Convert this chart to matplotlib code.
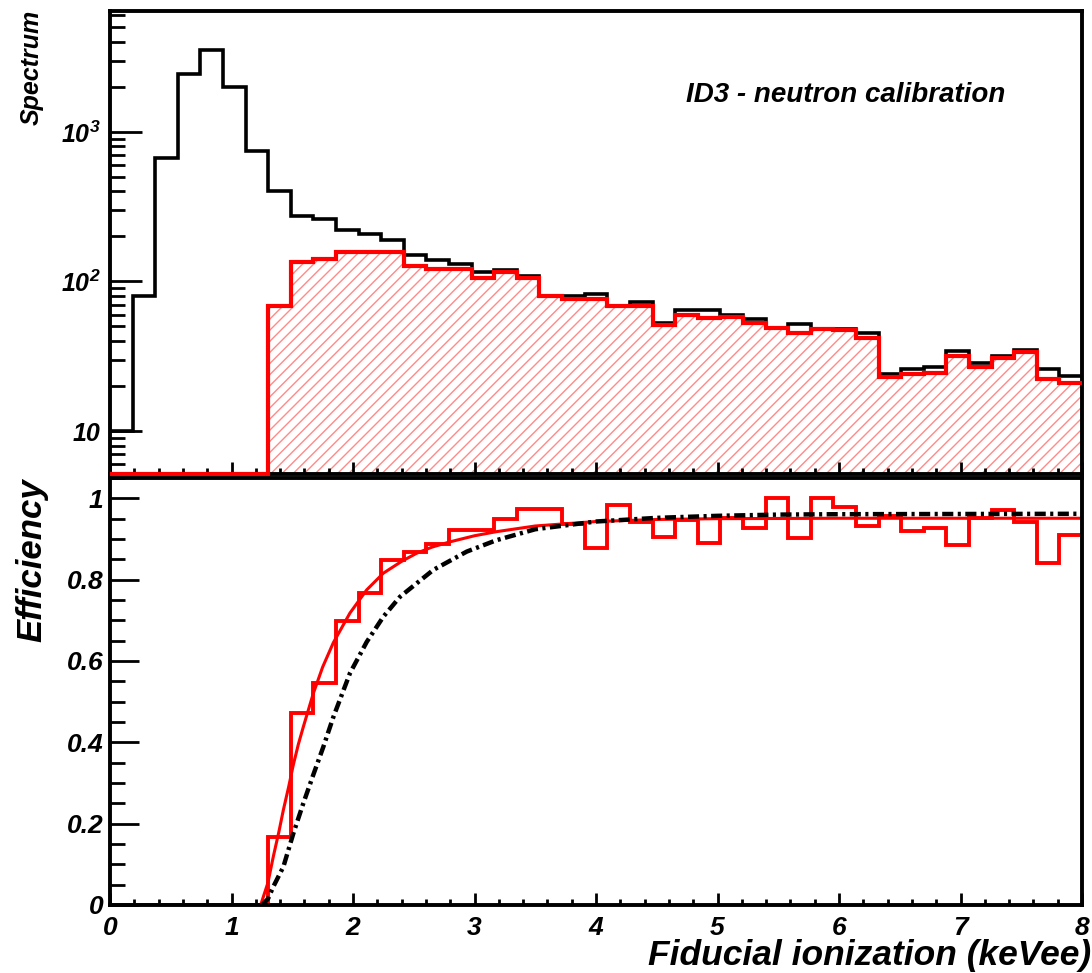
import numpy as np
import matplotlib
matplotlib.use('Agg')
from matplotlib import pyplot as plt
from matplotlib.ticker import (FixedLocator, FixedFormatter, LogLocator,
                               MultipleLocator, NullFormatter, FuncFormatter)

plt.rcParams['font.family'] = 'Liberation Sans'
plt.rcParams['font.weight'] = 'bold'
plt.rcParams['font.style'] = 'italic'
plt.rcParams['mathtext.fontset'] = 'custom'
plt.rcParams['mathtext.rm'] = 'Liberation Sans:bold:italic'
plt.rcParams['mathtext.it'] = 'Liberation Sans:bold:italic'
plt.rcParams['mathtext.bf'] = 'Liberation Sans:bold:italic'
plt.rcParams['hatch.linewidth'] = 1.0

# 43 bins of fiducial ionization between 0 and 8 keVee
bin_edges = np.linspace(0, 8, 44)

# all events
spectrum_all = [10, 80, 670, 2440, 3530, 2010, 750, 405, 272, 262,
                221, 207, 190, 151, 140, 131, 116, 120, 108, 80,
                80, 83, 69, 73, 53, 64, 64, 60, 56, 49,
                52, 48, 48, 45, 24, 26, 27, 34.5, 28.5, 31.6,
                34.6, 25.8, 23.2]
# events kept by the fiducial cut
spectrum_fid = [0, 0, 0, 0, 0, 0, 0, 69, 135, 141,
                158, 158, 157, 126, 122, 122, 105, 116, 105, 80,
                76, 76, 69, 69, 51, 60, 57, 58, 53, 49,
                45, 48, 47, 42, 23, 24, 24.6, 31.6, 26.8, 30.6,
                34, 22.2, 21]
# fiducial efficiency per bin
efficiency = [0, 0, 0, 0, 0, 0, 0, 0.168, 0.473, 0.545,
              0.699, 0.767, 0.848, 0.869, 0.887, 0.922, 0.922, 0.949, 0.975, 0.975,
              0.938, 0.879, 0.984, 0.943, 0.906, 0.947, 0.889, 0.951, 0.928, 1.0,
              0.902, 1.0, 0.979, 0.932, 0.957, 0.920, 0.928, 0.885, 0.951, 0.971,
              0.943, 0.842, 0.911]

# fitted efficiency
fit_e = [1.24, 1.30, 1.344, 1.39, 1.427, 1.47, 1.509, 1.55, 1.591, 1.673,
         1.75, 1.838, 1.975, 2.113, 2.25, 2.4, 2.524, 2.65, 2.798, 3.0,
         3.18, 3.5, 4.0, 4.5, 5.0, 6.0, 8.0]
fit_eff = [0.0, 0.055, 0.119, 0.18, 0.234, 0.29, 0.345, 0.395, 0.438, 0.52,
           0.585, 0.645, 0.718, 0.775, 0.816, 0.845, 0.865, 0.88, 0.893, 0.908,
           0.918, 0.932, 0.943, 0.948, 0.950, 0.951, 0.951]

# expected efficiency from resolution model
model_e = [1.25, 1.30, 1.344, 1.427, 1.509, 1.591, 1.673, 1.756, 1.838, 1.975,
           2.113, 2.25, 2.387, 2.661, 2.936, 3.18, 3.5, 4.0, 4.5, 5.0,
           5.5, 6.0, 8.0]
model_eff = [0.0, 0.015, 0.045, 0.094, 0.176, 0.250, 0.320, 0.389, 0.462, 0.570,
             0.647, 0.709, 0.758, 0.824, 0.869, 0.897, 0.924, 0.943, 0.952, 0.957,
             0.960, 0.961, 0.962]

fig = plt.figure(figsize=(10.92, 9.73), dpi=100)
W, H = 1092.0, 973.0
ax1 = fig.add_axes([110 / W, 1 - 474 / H, 972 / W, 463 / H])
ax2 = fig.add_axes([110 / W, 1 - 905 / H, 972 / W, 427 / H])

ymin, ymax = 5.16, 6430
fid_floor = np.maximum(spectrum_fid, ymin)

# top: spectra
ax1.stairs(fid_floor, bin_edges, baseline=ymin, fill=True, hatch='///',
           facecolor='none', edgecolor='#ff8a8a', lw=0, zorder=1)
ax1.stairs(spectrum_all, bin_edges, baseline=None, color='black', lw=2.6, zorder=3)
ax1.stairs(fid_floor, bin_edges, baseline=None, color='red', lw=3, zorder=6,
           clip_on=False)
ax1.set_yscale('log')
ax1.set_xlim(0, 8)
ax1.set_ylim(ymin, ymax)
ax1.yaxis.set_major_locator(FixedLocator([10, 100, 1000]))
ax1.yaxis.set_major_formatter(FixedFormatter(['10', '$10^{2}$', '$10^{3}$']))
ax1.yaxis.set_minor_locator(LogLocator(base=10, subs=np.arange(2, 10)))
ax1.yaxis.set_minor_formatter(NullFormatter())
ax1.xaxis.set_major_locator(MultipleLocator(1))
ax1.xaxis.set_minor_locator(MultipleLocator(0.2))
ax1.tick_params(which='both', direction='in', top=False, right=False,
                labelbottom=False, width=2)
ax1.tick_params(axis='y', which='major', length=23, labelsize=18, pad=7)
ax1.tick_params(axis='y', which='minor', length=11)
ax1.tick_params(axis='x', which='major', length=9)
ax1.tick_params(axis='x', which='minor', length=4.5)

# bottom: efficiency
ax2.stairs(efficiency, bin_edges, baseline=None, color='red', lw=2.8, zorder=2)
ax2.plot(fit_e, fit_eff, color='red', lw=2.2, zorder=2)
ax2.plot(model_e, model_eff, color='black', lw=3.2,
         linestyle=(0, (2.5, 1.0, 0.7, 1.0)), zorder=3)
ax2.set_xlim(0, 8)
ax2.set_ylim(0, 1.05)
ax2.yaxis.set_major_locator(MultipleLocator(0.2))
ax2.yaxis.set_minor_locator(MultipleLocator(0.05))
ax2.yaxis.set_major_formatter(FuncFormatter(lambda v, _: f'{v:g}'))
ax2.xaxis.set_major_locator(MultipleLocator(1))
ax2.xaxis.set_minor_locator(MultipleLocator(0.2))
ax2.tick_params(which='both', direction='in', top=False, right=False, width=2)
ax2.tick_params(axis='y', which='major', length=21, labelsize=19, pad=5)
ax2.tick_params(axis='y', which='minor', length=10.5)
ax2.tick_params(axis='x', which='major', length=9, labelsize=19, pad=8)
ax2.tick_params(axis='x', which='minor', length=4.5)

for ax in (ax1, ax2):
    for sp in ax.spines.values():
        sp.set_linewidth(2.8)
        sp.set_zorder(5)

fig.text(846 / W, 1 - 95 / H, 'ID3 - neutron calibration',
         ha='center', va='center', fontsize=20)
fig.text(32 / W, 1 - 10 / H, 'Spectrum', rotation=90,
         ha='center', va='top', fontsize=18)
fig.text(32 / W, 1 - 478 / H, 'Efficiency', rotation=90,
         ha='center', va='top', fontsize=25)
fig.text(1091 / W, 1 - 955 / H, 'Fiducial ionization (keVee)',
         ha='right', va='center', fontsize=25.5)

fig.savefig('out.png', dpi=100)
